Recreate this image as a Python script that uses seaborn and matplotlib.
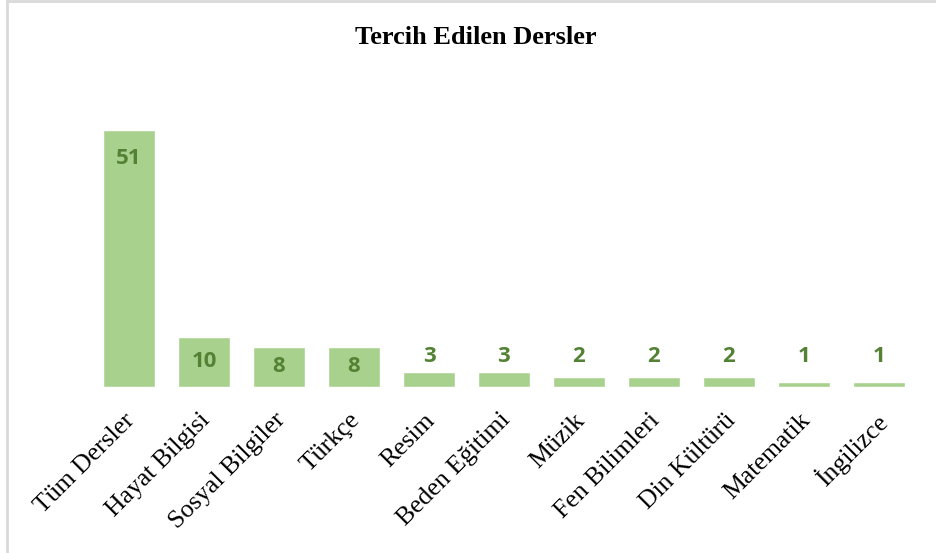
import matplotlib
matplotlib.use("Agg")
import matplotlib.pyplot as plt
import matplotlib.transforms as mtransforms
import seaborn as sns
from matplotlib.lines import Line2D

# Veriler
dersler = ["Tüm Dersler", "Hayat Bilgisi", "Sosyal Bilgiler", "Türkçe", "Resim",
           "Beden Eğitimi", "Müzik", "Fen Bilimleri", "Din Kültürü", "Matematik", "İngilizce"]
sayilar = [51, 10, 8, 8, 3, 3, 2, 2, 2, 1, 1]

sns.set_theme(style="white")
plt.rcParams['font.family'] = ['Liberation Serif', 'DejaVu Serif']

fig = plt.figure(figsize=(9.36, 5.53), dpi=100)
ax = fig.add_axes([91.5 / 936, 1 - 387 / 553, (916.5 - 91.5) / 936, 302 / 553])

sns.barplot(x=dersler, y=sayilar, color="#A9D18E", saturation=1, width=0.70, ax=ax)

ax.set_ylim(0, 60)
ax.set_xlim(-0.5, len(dersler) - 0.5)
ax.set_yticks([])
for s in ax.spines.values():
    s.set_visible(False)

# değer etiketleri (Excel tarzı: uzun çubukta içte üstte, kısa çubukta ortada, çok kısada üstte)
etiket_font = dict(color="#548235", fontsize=16, fontweight="bold", family=["Open Sans", "DejaVu Sans"])
for i, v in enumerate(sayilar):
    if v > 11.4:
        ax.text(i, v - 5.7, str(v), ha="center", va="center", **etiket_font)
    elif v >= 8:
        ax.text(i, v / 2, str(v), ha="center", va="center", **etiket_font)
    else:
        ax.text(i, 3.9, str(v), ha="center", va="bottom", **etiket_font)

ax.set_xticks(range(len(dersler)))
ax.set_xticklabels(dersler, rotation=45, ha="right", va="top", rotation_mode="anchor",
                   fontsize=18.5, color="black")
ax.tick_params(axis="x", length=0, pad=16)
kaydir = mtransforms.ScaledTranslation(-5 / 100, 0, fig.dpi_scale_trans)
for lbl in ax.get_xticklabels():
    lbl.set_transform(lbl.get_transform() + kaydir)

fig.text(476 / 936, 1 - 38 / 553, "Tercih Edilen Dersler", ha="center", va="center",
         fontsize=19, fontweight="bold", color="black")

# çerçeve
fig.add_artist(Line2D([7.5 / 936, 7.5 / 936], [0, 1], color="#D9D9D9", lw=2, transform=fig.transFigure))
fig.add_artist(Line2D([7.5 / 936, 1], [1 - 1 / 553, 1 - 1 / 553], color="#D9D9D9", lw=2, transform=fig.transFigure))

fig.savefig("out.png", dpi=100)
